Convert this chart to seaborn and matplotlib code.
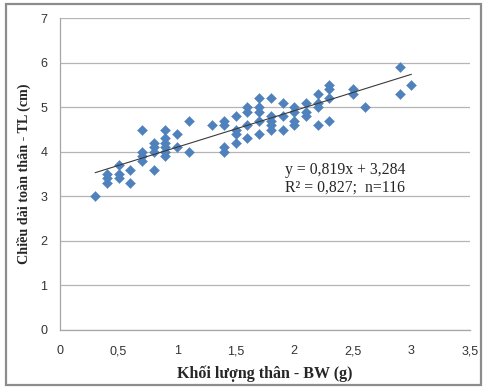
import numpy as np
import pandas as pd
import matplotlib
matplotlib.use("Agg")
import matplotlib.pyplot as plt
import seaborn as sns
from matplotlib.ticker import FuncFormatter, MultipleLocator
from matplotlib.patches import Rectangle

# ------------------------ DATA ------------------------
bw = [0.3,
      0.4, 0.4, 0.4,
      0.5, 0.5, 0.5,
      0.6, 0.6,
      0.7, 0.7, 0.7, 0.7,
      0.8, 0.8, 0.8, 0.8,
      0.9, 0.9, 0.9, 0.9, 0.9, 0.9,
      1.0, 1.0,
      1.1, 1.1,
      1.3,
      1.4, 1.4, 1.4, 1.4,
      1.5, 1.5, 1.5, 1.5,
      1.6, 1.6, 1.6, 1.6,
      1.7, 1.7, 1.7, 1.7, 1.7,
      1.8, 1.8, 1.8, 1.8, 1.8,
      1.9, 1.9, 1.9,
      2.0, 2.0, 2.0, 2.0,
      2.1, 2.1, 2.1,
      2.2, 2.2, 2.2, 2.2,
      2.3, 2.3, 2.3, 2.3,
      2.5, 2.5,
      2.6,
      2.9, 2.9,
      3.0]
tl = [3.0,
      3.3, 3.4, 3.5,
      3.4, 3.5, 3.7,
      3.3, 3.6,
      3.8, 3.9, 4.0, 4.5,
      3.6, 4.0, 4.1, 4.2,
      3.9, 4.0, 4.1, 4.2, 4.3, 4.5,
      4.1, 4.4,
      4.0, 4.7,
      4.6,
      4.0, 4.1, 4.6, 4.7,
      4.2, 4.4, 4.5, 4.8,
      4.3, 4.6, 4.9, 5.0,
      4.4, 4.7, 4.9, 5.0, 5.2,
      4.5, 4.6, 4.7, 4.8, 5.2,
      4.5, 4.8, 5.1,
      4.6, 4.7, 4.9, 5.0,
      4.8, 4.9, 5.1,
      4.6, 5.0, 5.1, 5.3,
      4.7, 5.2, 5.4, 5.5,
      5.3, 5.4,
      5.0,
      5.3, 5.9,
      5.5]

slope, intercept = 0.819, 3.284
eq_text = "y = 0,819x + 3,284"
r2_text = "R\u00b2 = 0,827;  n=116"

df = pd.DataFrame({"BW": bw, "TL": tl})

# ------------------------ PLOT ------------------------
sns.set_style("white")
plt.rcParams['font.family'] = ['Liberation Sans', 'DejaVu Sans']

fig = plt.figure(figsize=(4.83, 3.87), dpi=100)
ax = fig.add_axes([0.1242, 0.148, 0.8488, 0.8047])

# outer chart frame
fig.patches.append(Rectangle((6 / 483, 2 / 387), 475 / 483, 381 / 387,
                             transform=fig.transFigure, fill=False,
                             edgecolor="#8c8c8c", linewidth=1.6, zorder=0))

ax.grid(axis="y", color="#b5b5b5", linewidth=0.9)
ax.set_axisbelow(True)

sns.scatterplot(data=df, x="BW", y="TL", ax=ax, marker="D", s=26,
                color="#4F81BD", edgecolor="#4F81BD", linewidth=0.3, zorder=3)

xs = np.array([min(bw), max(bw)])
ax.plot(xs, slope * xs + intercept, color="#3a3a3a", linewidth=0.8, zorder=4)

ax.text(1.92, 3.60, eq_text, family="Liberation Serif", fontsize=11.3, va="center")
ax.text(1.92, 3.20, r2_text, family="Liberation Serif", fontsize=11.3, va="center")

ax.set_xlim(0, 3.5)
ax.set_ylim(0, 7)
ax.xaxis.set_major_locator(MultipleLocator(0.5))
ax.yaxis.set_major_locator(MultipleLocator(1))
fmt = FuncFormatter(lambda v, p: ("%g" % v).replace(".", ","))
ax.xaxis.set_major_formatter(fmt)
ax.yaxis.set_major_formatter(fmt)

for side in ["top", "right"]:
    ax.spines[side].set_visible(False)
for side in ["left", "bottom"]:
    ax.spines[side].set_color("#a6a6a6")
    ax.spines[side].set_linewidth(0.9)

ax.tick_params(axis="both", which="major", length=4, width=0.9, color="#a6a6a6",
               labelsize=9, labelcolor="#333333", direction="out")
ax.tick_params(axis="x", pad=7)
ax.tick_params(axis="y", pad=5)

ax.set_xlabel("Khối lượng thân - BW (g)", family="Liberation Serif",
              fontweight="bold", fontsize=11.5, labelpad=6)
ax.set_ylabel("Chiều dài toàn thân - TL (cm)", family="Liberation Serif",
              fontweight="bold", fontsize=10.2, labelpad=7)

fig.savefig("out.png", dpi=100, facecolor="white")
